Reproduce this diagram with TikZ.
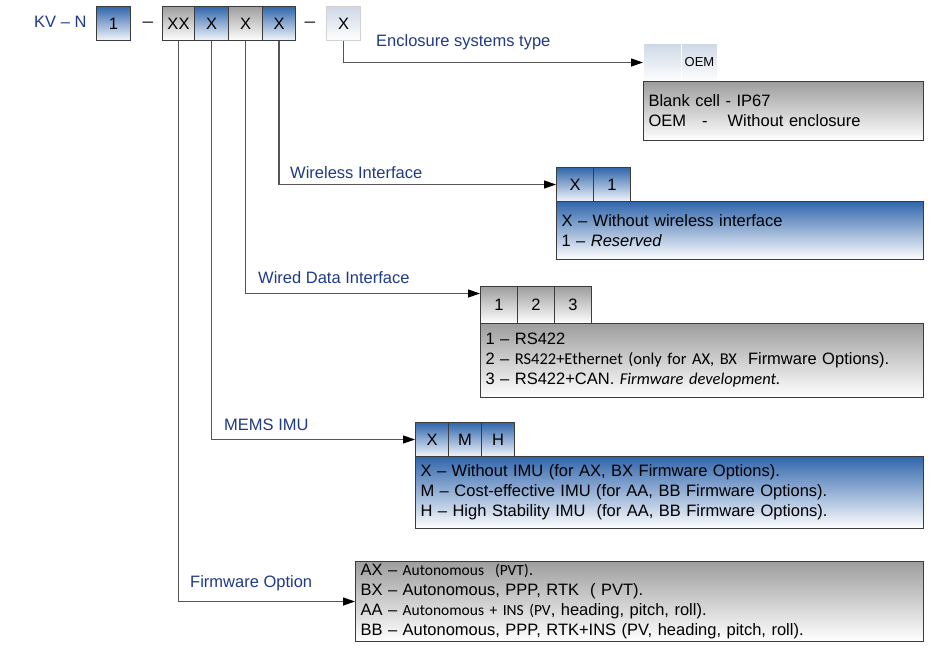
\documentclass[tikz,border=0pt]{standalone}
\usepackage{fontspec}
\setmainfont{Liberation Sans}
\newfontfamily\calfont{Carlito}
\usetikzlibrary{arrows.meta}

\definecolor{lblblue}{RGB}{31,58,135}
\definecolor{bluetop}{RGB}{48,102,172}
\definecolor{graytop}{RGB}{158,158,158}
\definecolor{paletop}{RGB}{206,216,230}
\definecolor{edge}{RGB}{60,60,60}
\definecolor{wire}{RGB}{85,85,85}

\tikzset{
  txt/.style={font=\fontsize{16.5}{20}\selectfont},
  cell/.style={txt, draw=edge, line width=1pt, inner sep=0pt, anchor=north west,
    minimum height=34pt},
  bluecell/.style={cell, top color=bluetop, bottom color=white!94!bluetop},
  graycell/.style={cell, top color=graytop, bottom color=white},
  palecell/.style={cell, draw=black!18, top color=paletop, bottom color=white},
  pane/.style={txt, draw=edge, line width=1pt, anchor=north west, align=left,
    inner xsep=5pt, inner ysep=0pt},
  bluepane/.style={pane, top color=bluetop, bottom color=white},
  graypane/.style={pane, top color=graytop, bottom color=white},
  lbl/.style={txt, text=lblblue, anchor=west, inner sep=0pt},
  sep/.style={font=\fontsize{19}{20}\selectfont, text=black!85, inner sep=0pt},
  feed/.style={draw=wire, line width=1.2pt,
    -{Triangle[length=12pt, width=8pt, color=black]}}
}

\begin{document}
\begin{tikzpicture}[x=1pt,y=-1pt]
\useasboundingbox (0,0) rectangle (947,656);

% part number row
\node[lbl] (kv) at (34,22) {KV -- N};
\node[bluecell, minimum width=34pt] (ncell) at (96,6) {1};
\node[sep] (dashA) at (148,25) {--};
\node[graycell, minimum width=32pt] (fwcell) at (162,6) {XX};
\node[bluecell, minimum width=34pt] (imucell) at (194,6) {X};
\node[graycell, minimum width=34pt] (wiredcell) at (228,6) {X};
\node[bluecell, minimum width=33pt] (wlesscell) at (262,6) {X};
\node[sep] (dashB) at (310,25) {--};
\node[palecell, minimum width=34pt] (enclcell) at (326,6) {X};

% enclosure
\node[palecell, draw=white, minimum width=38pt, minimum height=38pt] (encltab1) at (643,43) {};
\node[palecell, draw=white, minimum width=36pt, minimum height=38pt,
  font=\fontsize{13}{15}\selectfont] (encltab2) at (681,43) {\raisebox{-4pt}{OEM}};
\node[graypane, minimum width=280pt, minimum height=59pt, text width=270pt] (enclbox) at (643,81)
  {Blank cell - IP67\\OEM\hspace{16pt}-\hspace{20pt}Without enclosure};
\draw[feed] (enclcell.south) |- (encltab1.west);
\node[lbl] (encllbl) at (376,42) {Enclosure systems type};

% wireless
\node[bluecell, minimum width=37pt] (wltab1) at (556,167) {X};
\node[bluecell, minimum width=37pt] (wltab2) at (593,167) {1};
\node[bluepane, minimum width=367pt, minimum height=58pt, text width=357pt] (wlbox) at (556,201)
  {X -- Without wireless interface\\1 -- \textit{Reserved}};
\draw[feed] (wlesscell.south) |- (wltab1.west);
\node[lbl] (wllbl) at (290,173) {Wireless Interface};

% wired
\node[graycell, minimum width=37pt, minimum height=37pt] (wdtab1) at (480,286) {1};
\node[graycell, minimum width=37pt, minimum height=37pt] (wdtab2) at (517,286) {2};
\node[graycell, minimum width=37pt, minimum height=37pt] (wdtab3) at (554,286) {3};
\node[graypane, minimum width=443pt, minimum height=74pt, text width=433pt] (wdbox) at (480,323)
  {1 -- RS422\\
   2 -- {\calfont RS422+Ethernet (only for AX, BX} \ Firmware Options).\\
   3 -- RS422+CAN. {\calfont\itshape Firmware development.}};
\draw[feed] (wiredcell.south) |- ([yshift=11.5pt]wdtab1.west);
\node[lbl] (wdlbl) at (258,278) {Wired Data Interface};

% MEMS IMU
\node[bluecell, minimum width=33pt] (imutab1) at (415,422) {X};
\node[bluecell, minimum width=33pt] (imutab2) at (448,422) {M};
\node[bluecell, minimum width=33pt] (imutab3) at (481,422) {H};
\node[bluepane, minimum width=508pt, minimum height=72pt, text width=498pt] (imubox) at (415,456)
  {X -- Without IMU (for AX, BX Firmware Options).\\
   M -- Cost-effective IMU (for AA, BB Firmware Options).\\
   H -- High Stability IMU \ (for AA, BB Firmware Options).};
\draw[feed] (imucell.south) |- (imutab1.west);
\node[lbl] (imulbl) at (224,425) {MEMS IMU};

% firmware
\node[graypane, minimum width=568pt, minimum height=80pt, text width=558pt] (fwbox) at (355,561)
  {AX -- {\calfont\fontsize{15.5}{20}\selectfont Autonomous \ (PVT)}.\\
   BX -- Autonomous, PPP, RTK \ ( PVT).\\
   AA -- {\calfont\fontsize{15.5}{20}\selectfont Autonomous + INS (PV}, heading, pitch, roll).\\
   BB -- Autonomous, PPP, RTK+INS (PV, heading, pitch, roll).};
\draw[feed] (fwcell.south) |- (fwbox.west);
\node[lbl] (fwlbl) at (190,583) {Firmware Option};
\end{tikzpicture}
\end{document}
